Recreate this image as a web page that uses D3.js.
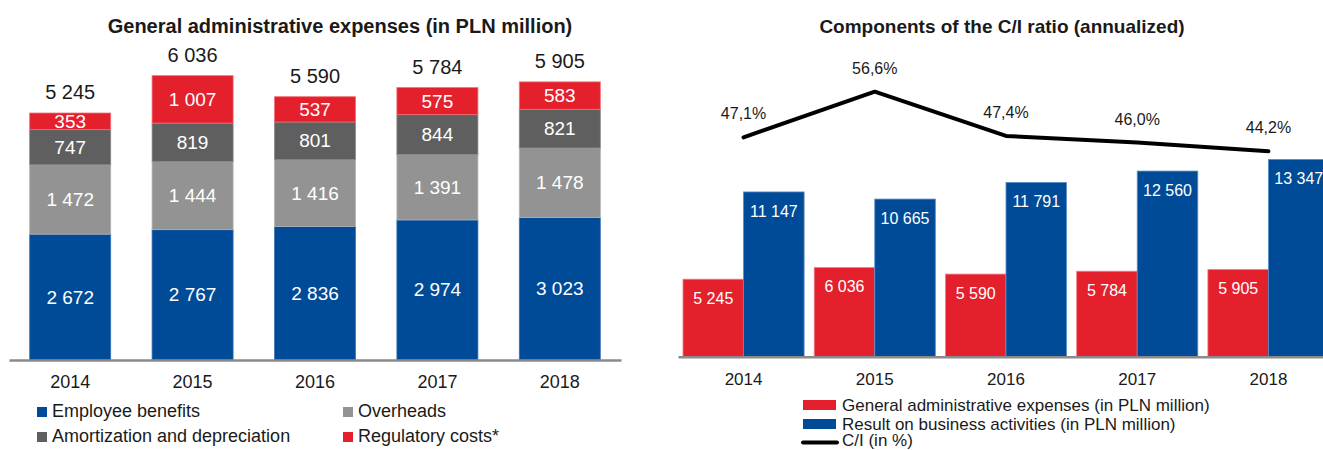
<!DOCTYPE html>
<html>
<head>
<meta charset="utf-8">
<script src="https://cdn.jsdelivr.net/npm/d3@7/dist/d3.min.js"></script>
<style>
  html, body { margin: 0; padding: 0; background: #fff; }
  svg { display: block; font-family: "Liberation Sans", Arial, sans-serif; }
</style>
</head>
<body>
<svg id="chart" width="1323" height="450"></svg>
<script>
// ---------- data ----------
const years = ["2014", "2015", "2016", "2017", "2018"];
const employeeBenefits = [2672, 2767, 2836, 2974, 3023];
const overheads = [1472, 1444, 1416, 1391, 1478];
const amortization = [747, 819, 801, 844, 821];
const regulatory = [353, 1007, 537, 575, 583];
const totalExpenses = [5245, 6036, 5590, 5784, 5905];
const resultBusiness = [11147, 10665, 11791, 12560, 13347];
const ciRatio = [47.1, 56.6, 47.4, 46.0, 44.2];

const leftTitle = "General administrative expenses (in PLN million)";
const rightTitle = "Components of the C/I ratio (annualized)";
const leftLegend = ["Employee benefits", "Overheads", "Amortization and depreciation", "Regulatory costs*"];
const rightLegend = ["General administrative expenses (in PLN million)", "Result on business activities (in PLN million)", "C/I (in %)"];

// ---------- styles ----------
const BLUE = "#004b98", RED = "#e3202c", DGRAY = "#5f5f5f", LGRAY = "#939393";
const TXT = "#1a1a1a", AXIS = "#8a8a8a";

const loc = d3.formatLocale({decimal: ",", thousands: "\u00a0", grouping: [3], currency: ["", ""]});
const fmtN = loc.format(",");
const fmtP = d => loc.format(".1f")(d) + "%";

const svg = d3.select("#chart");

// ================= LEFT CHART =================
const L = svg.append("g");
const xL = d3.scaleBand().domain(years).range([9, 621]).paddingInner(0.338).paddingOuter(0.169);
const yL = d3.scaleLinear().domain([0, 6000]).range([360, 360 - 6000 * 0.0471]);

const seriesKeys = ["emp", "ovh", "amo", "reg"];
const seriesColors = {emp: BLUE, ovh: LGRAY, amo: DGRAY, reg: RED};
const seriesStroke = {emp: "#3d73b5", ovh: "#b4b4b4", amo: "#8a8a8a", reg: "#f07077"};
const rows = years.map((y, i) => ({year: y, emp: employeeBenefits[i], ovh: overheads[i], amo: amortization[i], reg: regulatory[i]}));
const stack = d3.stack().keys(seriesKeys)(rows);

stack.forEach(layer => {
  const g = L.append("g");
  g.selectAll("rect").data(layer).join("rect")
    .attr("x", d => xL(d.data.year))
    .attr("width", xL.bandwidth())
    .attr("y", d => yL(d[1]))
    .attr("height", d => yL(d[0]) - yL(d[1]))
    .attr("fill", seriesColors[layer.key])
    .attr("stroke", seriesStroke[layer.key])
    .attr("stroke-width", 0.8);
  g.selectAll("text").data(layer).join("text")
    .attr("x", d => xL(d.data.year) + xL.bandwidth() / 2)
    .attr("y", d => (yL(d[0]) + yL(d[1])) / 2 + 6.5)
    .attr("text-anchor", "middle")
    .attr("fill", "#fff")
    .attr("font-size", 19)
    .text(d => fmtN(d.data[layer.key]));
});

// totals
L.append("g").selectAll("text").data(years).join("text")
  .attr("x", d => xL(d) + xL.bandwidth() / 2)
  .attr("y", (d, i) => yL(totalExpenses[i]) - 13.5)
  .attr("text-anchor", "middle")
  .attr("fill", TXT)
  .attr("font-size", 20)
  .text((d, i) => fmtN(totalExpenses[i]));

// axis
const axL = L.append("g").attr("transform", "translate(0,360)")
  .call(d3.axisBottom(xL).tickSize(0).tickSizeOuter(0).tickPadding(15));
axL.select(".domain").attr("stroke", AXIS).attr("stroke-width", 2.5);
axL.selectAll("text").attr("font-size", 18).attr("fill", TXT).attr("font-family", "Liberation Sans, Arial, sans-serif");

// title
L.append("text").attr("x", 340).attr("y", 33).attr("text-anchor", "middle")
  .attr("font-size", 20).attr("font-weight", "bold").attr("fill", TXT).text(leftTitle);

// legend
const legPos = [
  {x: 37, y: 417, c: BLUE},
  {x: 343, y: 417, c: LGRAY},
  {x: 37, y: 442, c: DGRAY},
  {x: 343, y: 442, c: RED}
];
legPos.forEach((p, i) => {
  L.append("rect").attr("x", p.x).attr("y", p.y - 10).attr("width", 10).attr("height", 10).attr("fill", p.c);
  L.append("text").attr("x", p.x + 15).attr("y", p.y).attr("font-size", 18).attr("fill", TXT).text(leftLegend[i]);
});

// ================= RIGHT CHART =================
const R = svg.append("g");
const x0 = d3.scaleBand().domain(years).range([678, 1334]).paddingInner(0.077).paddingOuter(0.038);
const x1 = d3.scaleBand().domain(["gae", "res"]).range([0, x0.bandwidth()]);
const yR = d3.scaleLinear().domain([0, 14000]).range([356.7, 356.7 - 14000 * 0.01478]);
const yC = d3.scaleLinear().domain([0, 60]).range([363.4, 75.4]);

const barData = [];
years.forEach((y, i) => {
  barData.push({year: y, key: "gae", v: totalExpenses[i]});
  barData.push({year: y, key: "res", v: resultBusiness[i]});
});
const barFill = {gae: RED, res: BLUE};
const barStroke = {gae: "#f08088", res: "#5b8cc6"};

R.append("g").selectAll("rect").data(barData).join("rect")
  .attr("x", d => x0(d.year) + x1(d.key))
  .attr("width", x1.bandwidth())
  .attr("y", d => yR(d.v))
  .attr("height", d => yR(0) - yR(d.v))
  .attr("fill", d => barFill[d.key])
  .attr("stroke", d => barStroke[d.key])
  .attr("stroke-width", 0.8);

R.append("g").selectAll("text").data(barData).join("text")
  .attr("x", d => x0(d.year) + x1(d.key) + x1.bandwidth() / 2)
  .attr("y", d => yR(d.v) + 25)
  .attr("text-anchor", "middle")
  .attr("fill", "#fff")
  .attr("font-size", 16)
  .text(d => fmtN(d.v));

const axR = R.append("g").attr("transform", "translate(0,356.7)")
  .call(d3.axisBottom(x0).tickSize(0).tickSizeOuter(0).tickPadding(16));
axR.select(".domain").attr("stroke", AXIS).attr("stroke-width", 2.5);
axR.selectAll("text").attr("font-size", 17).attr("fill", TXT).attr("font-family", "Liberation Sans, Arial, sans-serif");

// line
const cx = y => x0(y) + x0.bandwidth() / 2;
const lineGen = d3.line().x((d, i) => cx(years[i])).y(d => yC(d));
R.append("path").datum(ciRatio).attr("d", lineGen)
  .attr("fill", "none").attr("stroke", "#000").attr("stroke-width", 4)
  .attr("stroke-linejoin", "round").attr("stroke-linecap", "round");

R.append("g").selectAll("text").data(ciRatio).join("text")
  .attr("x", (d, i) => cx(years[i]))
  .attr("y", d => yC(d) - 18)
  .attr("text-anchor", "middle")
  .attr("fill", TXT)
  .attr("font-size", 16)
  .text(d => fmtP(d));

// title
R.append("text").attr("x", 1002).attr("y", 33).attr("text-anchor", "middle")
  .attr("font-size", 19).attr("font-weight", "bold").attr("fill", TXT).text(rightTitle);

// legend
R.append("rect").attr("x", 803).attr("y", 400).attr("width", 33).attr("height", 10).attr("fill", RED);
R.append("rect").attr("x", 803).attr("y", 419).attr("width", 33).attr("height", 10).attr("fill", BLUE);
R.append("line").attr("x1", 803).attr("x2", 837).attr("y1", 442.5).attr("y2", 442.5)
  .attr("stroke", "#000").attr("stroke-width", 4).attr("stroke-linecap", "round");
[410.5, 429.5, 446].forEach((yy, i) => {
  R.append("text").attr("x", 842).attr("y", yy).attr("font-size", 17).attr("fill", TXT).text(rightLegend[i]);
});
</script>
</body>
</html>
